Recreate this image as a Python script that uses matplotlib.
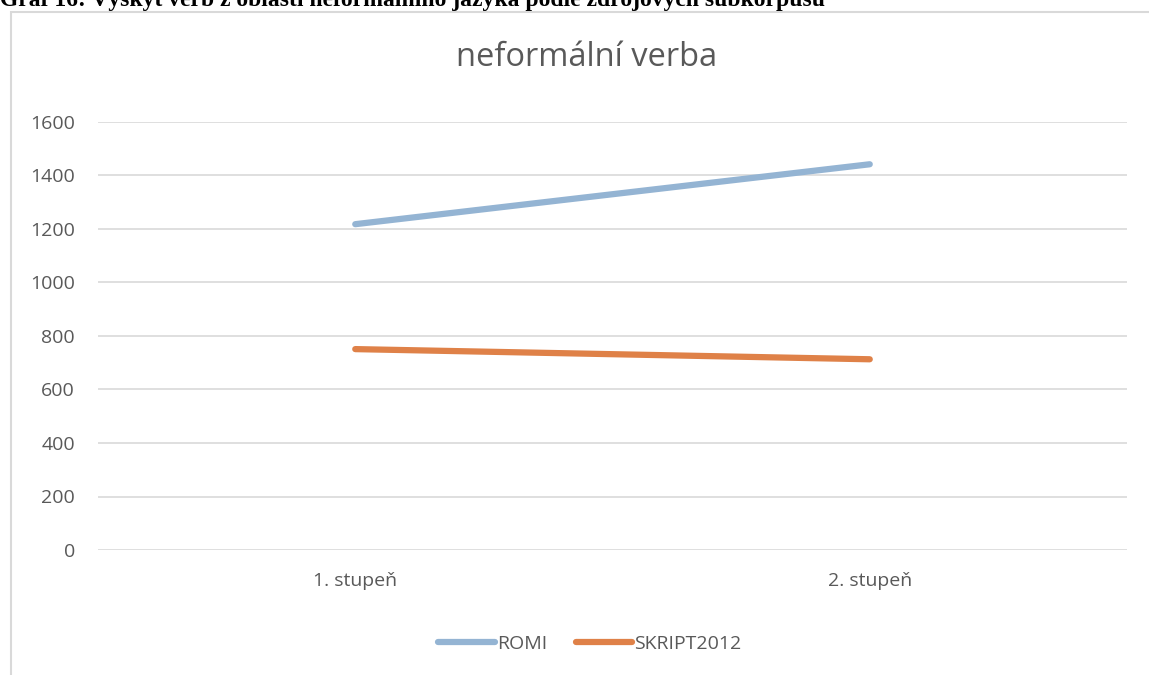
import matplotlib
matplotlib.use("Agg")
import matplotlib.pyplot as plt
from matplotlib.patches import Rectangle
from matplotlib.lines import Line2D

categories = ["1. stupeň", "2. stupeň"]
romi = [1218, 1442]
skript = [751, 713]
series_names = ["ROMI", "SKRIPT2012"]
yticks = [0, 200, 400, 600, 800, 1000, 1200, 1400, 1600]

W, H = 1149, 675
fig = plt.figure(figsize=(W / 100, H / 100), dpi=100)
plt.rcParams['font.family'] = ['Open Sans', 'DejaVu Sans']

# chart frame
fig.patches.append(Rectangle((11 / W, -0.1), 1.2, 1 - 12 / H + 0.1, transform=fig.transFigure,
                             fill=False, edgecolor='#d9d9d9', linewidth=1.5))

# header caption (cropped at top, as in the reference)
fig.text(0.0, 1 - 6 / H, "Graf 16: Výskyt verb z oblasti neformálního jazyka podle zdrojových subkorpusů",
         family=['Liberation Serif'], fontweight='bold', fontsize=17, va='baseline', ha='left')

ax = fig.add_axes([98 / W, 1 - 550 / H, (1127 - 98) / W, (550 - 122) / H])
x = list(range(len(categories)))
c_romi = '#94b4d3'
c_skript = '#df8148'
ax.plot(x, romi, color=c_romi, linewidth=4.5, solid_capstyle='round', label=series_names[0])
ax.plot(x, skript, color=c_skript, linewidth=4.5, solid_capstyle='round', label=series_names[1])

ax.set_xlim(-0.5, 1.5)
ax.set_ylim(0, 1600)
ax.set_yticks(yticks)
ax.set_yticklabels([str(v) for v in yticks])
ax.set_xticks(x)
ax.set_xticklabels(categories)
ax.grid(axis='y', color='#d9d9d9', linewidth=1.2)
ax.set_axisbelow(True)
for s in ax.spines.values():
    s.set_visible(False)
ax.tick_params(axis='both', length=0, colors='#595959', labelsize=14)
ax.tick_params(axis='y', pad=16.5)
ax.tick_params(axis='x', pad=16)

fig.text(587 / W, 1 - 57 / H, "neformální verba", ha='center', va='center',
         fontsize=23.5, color='#595959')

handles = [Line2D([], [], color=c_romi, linewidth=4.5, solid_capstyle='round'),
           Line2D([], [], color=c_skript, linewidth=4.5, solid_capstyle='round')]
fig.legend(handles, series_names, loc='center', bbox_to_anchor=(590 / W, 1 - 644 / H),
           ncol=2, frameon=False, fontsize=14, labelcolor='#595959',
           handlelength=2.9, handletextpad=0.1, columnspacing=1.5)

fig.savefig("out.png", dpi=100)
